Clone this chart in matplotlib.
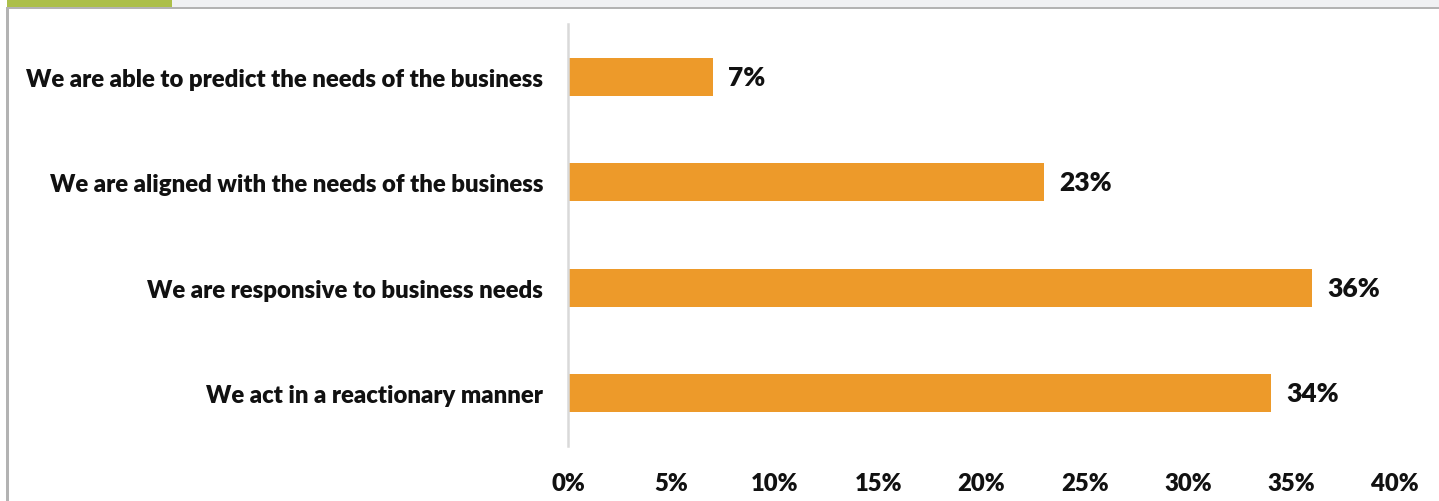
import matplotlib.pyplot as plt
from matplotlib.patches import Rectangle

categories = [
    "We are able to predict the needs of the business",
    "We are aligned with the needs of the business",
    "We are responsive to business needs",
    "We act in a reactionary manner",
]
values = [7, 23, 36, 34]
xticks = [0, 5, 10, 15, 20, 25, 30, 35, 40]

plt.rcParams['font.family'] = ['Lato', 'DejaVu Sans']

W, H = 1439, 502
fig = plt.figure(figsize=(W / 100, H / 100), dpi=100)
fig.patch.set_facecolor('white')

# panel frame: grey band with green tab on top, grey rules on top and left
fig.add_artist(Rectangle((8 / W, 1 - 8 / H), 1, 8 / H, transform=fig.transFigure,
                         color='#f0f1f3', lw=0))
fig.add_artist(Rectangle((7 / W, 1 - 8 / H), 165 / W, 8 / H, transform=fig.transFigure,
                         color='#acbf4a', lw=0))
fig.add_artist(Rectangle((6 / W, 1 - 10 / H), 1, 2.5 / H, transform=fig.transFigure,
                         color='#b3b3b3', lw=0))
fig.add_artist(Rectangle((6 / W, 0), 2.5 / W, 1 - 8 / H, transform=fig.transFigure,
                         color='#b3b3b3', lw=0))

ax = fig.add_axes([568 / W, (H - 447) / H, (1395 - 568) / W, 422 / H])
ypos = list(range(len(categories)))
ax.barh(ypos, values, height=0.36, color='#ed9a2a')
ax.set_xlim(0, 40)
ax.set_ylim(len(categories) - 0.5, -0.5)

for y, v in zip(ypos, values):
    ax.text(v + 0.75, y, f"{v}%", va='center', ha='left',
            fontsize=19, fontweight='heavy', color='#111111')

ax.set_yticks(ypos)
ax.set_yticklabels(categories, fontsize=17.2, fontweight='heavy', color='#111111')
ax.set_xticks(xticks)
ax.set_xticklabels([f"{t}%" for t in xticks], fontsize=17.2, fontweight='heavy',
                   color='#111111')
ax.tick_params(axis='y', length=0, pad=18)
ax.tick_params(axis='x', length=0, pad=19)

for side in ['top', 'right', 'bottom']:
    ax.spines[side].set_visible(False)
ax.spines['left'].set_color('#d9d9d9')
ax.spines['left'].set_linewidth(1.8)
ax.set_facecolor('white')

fig.savefig('out.png', dpi=100, facecolor='white')
